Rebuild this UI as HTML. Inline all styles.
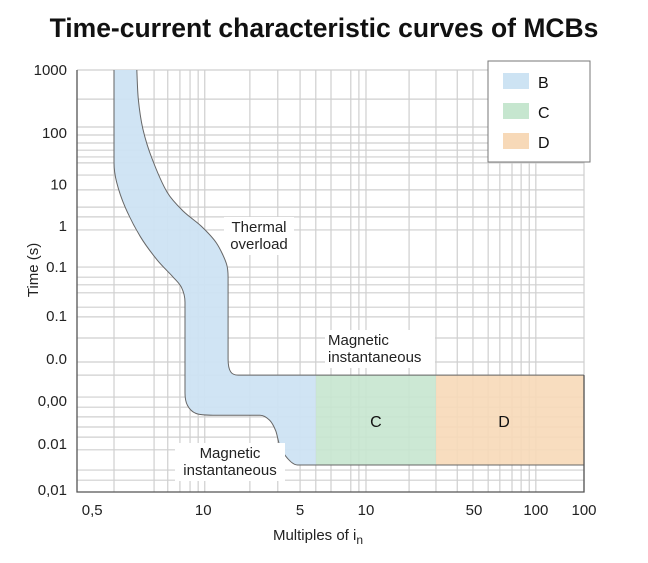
<!DOCTYPE html>
<html><head><meta charset="utf-8"><style>
body{margin:0;background:#fff;}
svg{display:block;font-family:"Liberation Sans",sans-serif;}
</style></head><body>
<svg id="chart" width="648" height="563">
<text x="324" y="37" text-anchor="middle" font-size="26.5" font-weight="bold" fill="#111">Time-current characteristic curves of MCBs</text>
<g id="grid"></g>
<g id="bands"></g>
<g id="axes"></g>
<g id="labels"></g>
<text transform="translate(38,270) rotate(-90)" text-anchor="middle" font-size="15" fill="#222">Time (s)</text>
<text x="318" y="540" text-anchor="middle" font-size="15" fill="#222">Multiples of i<tspan font-size="12" dy="4">n</tspan></text>
<g>
<rect x="488" y="61" width="102" height="101" fill="#fff" stroke="#777" stroke-width="1"/>
<rect x="503" y="73" width="26" height="16" fill="#cde3f3"/>
<text x="538" y="88" font-size="16" fill="#111">B</text>
<rect x="503" y="103" width="26" height="16" fill="#c6e6cf"/>
<text x="538" y="118" font-size="16" fill="#111">C</text>
<rect x="503" y="133" width="26" height="16" fill="#f7d9b8"/>
<text x="538" y="148" font-size="16" fill="#111">D</text>
</g>
</svg>
<script>
const yTickLabels=["1000","100","10","1","0.1","0.1","0.0","0,00","0.01","0,01"];
const yTickPos=[100,85.1,72.9,63,53.3,41.7,31.5,21.6,11.4,0.5];
const xTickLabels=["0,5","10","5","10","50","100","100"];
const xTickPos=[3,24.9,44,57,78.3,90.5,100];
const gridX=[7.3,15.2,17.9,20.3,22.3,23.9,25.2,34.1,39.6,44,47.1,50.1,54,55.6,57,65.5,70.8,75,78.1,81.1,83.4,85.8,87.6,89.2,90.5,100];
const gridY=[93.1,86.5,84.6,82.7,81,79.4,78,75.1,71.6,67.5,65.2,62.1,53.3,50.9,49.1,47.2,43.8,41.5,36.5,30.8,27.7,22.5,20.1,17.8,15.4,13,10,5.2,2.8];
const upperU=[11.8,12.1,13.0,14.8,17.8,21.0,24.5,27.5,29.5,29.8,29.8,30.3,31.8,100];
const upperV=[100,93,86,79,71,66.5,63,59,54,50.2,31.5,28.5,27.7,27.7];
const lowerU=[7.3,7.3,7.8,9.5,12.5,15.8,18.9,20.6,21.3,21.3,21.8,23.5,26.8,36.1,38.0,39.2,40.0,41.5,43.5,47.1];
const lowerV=[100,78.0,73.5,67.5,60.5,55.0,51.0,48.5,45,23.5,20.5,18.6,18.2,18.2,17,14.5,11,8,6.4,6.4];
const bandC=[47.1,70.8]; const bandD=[70.8,100]; const bandTop=27.7, bandBottom=6.4;

const L=77,R=584,T=70,B=492;
const X=u=>L+u*(R-L)/100, Y=v=>B-v*(B-T)/100;
const NS="http://www.w3.org/2000/svg";
function mk(tag,attrs,parent){const e=document.createElementNS(NS,tag);for(const k in attrs)e.setAttribute(k,attrs[k]);parent.appendChild(e);return e;}
const grid=document.getElementById('grid'),bands=document.getElementById('bands'),axes=document.getElementById('axes'),labels=document.getElementById('labels');
gridX.forEach(u=>{const l=mk('line',{x1:X(u),x2:X(u),y1:T,y2:B,stroke:'#cfcfcf','stroke-width':1.2},grid);

});
gridY.concat([100]).forEach(v=>{const l=mk('line',{x1:L,x2:R,y1:Y(v),y2:Y(v),stroke:'#cfcfcf','stroke-width':1.2},grid);

});
function smooth(pts){let d=`M${pts[0][0]},${pts[0][1]}`;for(let i=0;i<pts.length-1;i++){const p0=pts[i-1]||pts[i],p1=pts[i],p2=pts[i+1],p3=pts[i+2]||p2;
if(Math.abs(p1[0]-p2[0])<0.01||Math.abs(p1[1]-p2[1])<0.01){d+=` L${p2[0]},${p2[1]}`;continue;}
const t=0.15;
let c1=[p1[0]+(p2[0]-p0[0])*t,p1[1]+(p2[1]-p0[1])*t],c2=[p2[0]-(p3[0]-p1[0])*t,p2[1]-(p3[1]-p1[1])*t];
if(Math.abs(p0[0]-p1[0])<0.01&&i>0)c1=[p1[0],p1[1]+(p2[1]-p1[1])*0.4];
if(Math.abs(p0[1]-p1[1])<0.01&&i>0)c1=[p1[0]+(p2[0]-p1[0])*0.4,p1[1]];
if(Math.abs(p3[0]-p2[0])<0.01&&p3!==p2)c2=[p2[0],p2[1]-(p2[1]-p1[1])*0.4];
if(Math.abs(p3[1]-p2[1])<0.01&&p3!==p2)c2=[p2[0]-(p2[0]-p1[0])*0.4,p2[1]];
d+=` C${c1[0]},${c1[1]} ${c2[0]},${c2[1]} ${p2[0]},${p2[1]}`;}return d;}
const up=upperU.map((u,i)=>[X(u),Y(upperV[i])]);
const lo=lowerU.map((u,i)=>[X(u),Y(lowerV[i])]);
const cR=mk('rect',{x:X(bandC[0]),y:Y(bandTop),width:X(bandC[1])-X(bandC[0]),height:Y(bandBottom)-Y(bandTop),fill:'#c6e6cf',opacity:0.9},bands);


const dR=mk('rect',{x:X(bandD[0]),y:Y(bandTop),width:X(bandD[1])-X(bandD[0]),height:Y(bandBottom)-Y(bandTop),fill:'#f7d9b8',opacity:0.9},bands);


const upD=smooth(up),loD=smooth(lo);
const loRev=smooth(lo.slice().reverse());
const bPath=mk('path',{d:upD+` L${X(bandC[0])},${Y(bandTop)} L${X(bandC[0])},${Y(bandBottom)} `+loRev.replace(/^M/,'L')+'Z',fill:'#cde3f3',opacity:0.95,stroke:'none'},bands);


const ul=mk('path',{d:upD,fill:'none',stroke:'#666','stroke-width':1},bands);


const ll=mk('path',{d:loD+` L${X(bandD[1])},${Y(bandBottom)}`,fill:'none',stroke:'#666','stroke-width':1},bands);


const ax=mk('path',{d:`M${L},${T} L${L},${B} L${R},${B} L${R},${Y(bandTop)}`,fill:'none',stroke:'#555','stroke-width':1.3},axes);


yTickLabels.forEach((t,i)=>{const e=mk('text',{x:67,y:Y(yTickPos[i])+5,'text-anchor':'end','font-size':15,fill:'#222'},axes);e.textContent=t;

});
xTickLabels.forEach((t,i)=>{const e=mk('text',{x:X(xTickPos[i]),y:515,'text-anchor':'middle','font-size':15,fill:'#222'},axes);e.textContent=t;

});
function note(lines,x,y,anchor,name){const w=lines.reduce((a,s)=>Math.max(a,s.length),0)*8;const bx=anchor==='middle'?x-w/2-3:x-3;
mk('rect',{x:bx,y:y-15,width:w+6,height:lines.length*17+4,fill:'#fff'},labels);
lines.forEach((s,i)=>{const e=mk('text',{x:x,y:y+i*17,'text-anchor':anchor,'font-size':15,fill:'#222'},labels);e.textContent=s;

});}
note(["Thermal","overload"],259,232,'middle','thermal-overload-label');
note(["Magnetic","instantaneous"],328,345,'start','magnetic-upper-label');
note(["Magnetic","instantaneous"],230,458,'middle','magnetic-lower-label');
const cl=mk('text',{x:(X(bandC[0])+X(bandC[1]))/2,y:427,'text-anchor':'middle','font-size':16,fill:'#111'},labels);cl.textContent='C';


const dl=mk('text',{x:504,y:427,'text-anchor':'middle','font-size':16,fill:'#111'},labels);dl.textContent='D';


</script>
</body></html>
